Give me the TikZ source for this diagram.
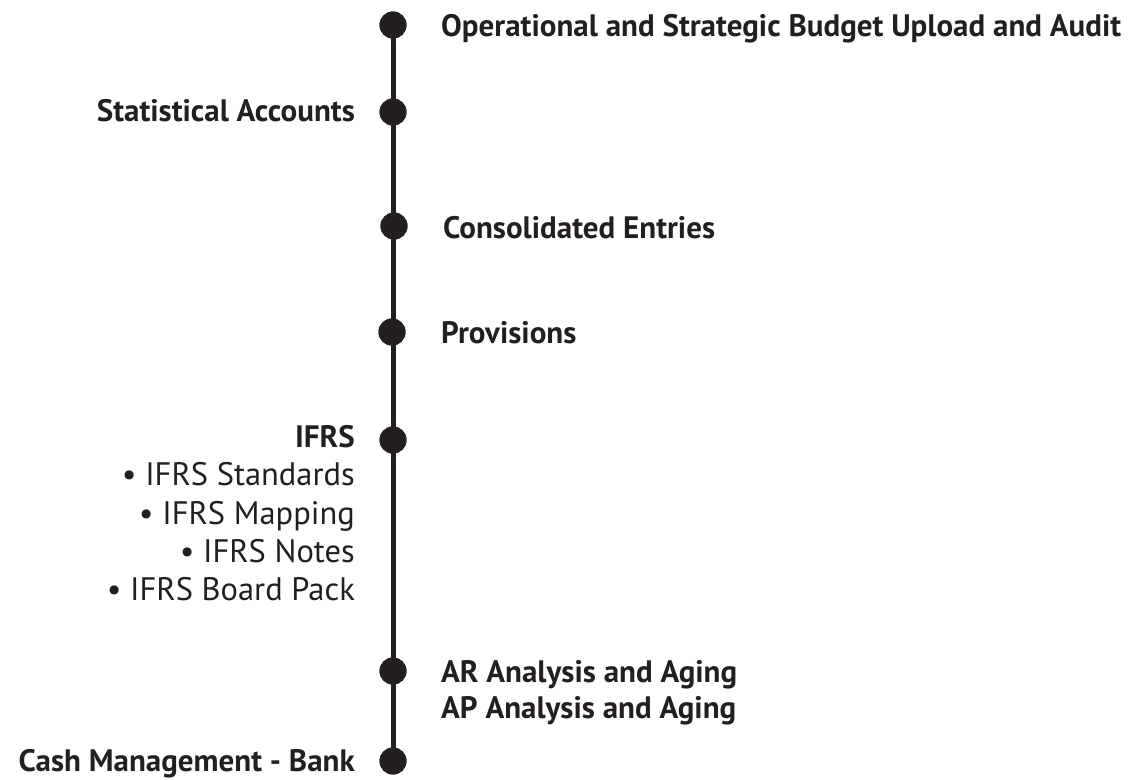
\documentclass[tikz,border=0pt]{standalone}
\usepackage{fontspec}
\setmainfont{PT Sans}
\definecolor{ink}{HTML}{231F20}
\begin{document}
\begin{tikzpicture}[x=1pt,y=-1pt,
  dot/.style={circle,fill=ink,inner sep=0pt,minimum size=27pt},
  lbl/.style={font=\fontsize{31}{34}\selectfont\bfseries,text=ink,inner sep=0pt},
  sub/.style={font=\fontsize{32.5}{34}\selectfont,text=ink,inner sep=0pt,anchor=base east},
  spine/.style={draw=ink,line width=5pt}]
\useasboundingbox (0,0) rectangle (1139,779);
\node[dot] (d1) at (393,25) {};
\node[dot] (d2) at (393,112) {};
\node[dot] (d3) at (394,226) {};
\node[dot] (d4) at (392,332) {};
\node[dot] (d5) at (393,440) {};
\node[dot] (d6) at (393,671) {};
\node[dot] (d7) at (393,761) {};
\draw[spine] (d1.center) -- (d7.center);
\foreach \d in {d1,d2,d3,d4,d5,d6,d7} \node[dot] at (\d) {};
\node[lbl,anchor=base west] (t1) at (441,36) {Operational and Strategic Budget Upload and Audit};
\node[lbl,anchor=base east] (t2) at (355,121) {Statistical Accounts};
\node[lbl,anchor=base west] (t3) at (443,238) {Consolidated Entries};
\node[lbl,anchor=base west] (t4) at (441,343) {Provisions};
\node[lbl,anchor=base east] (t5) at (355,447) {IFRS};
\node[sub] (s1) at (355,485) {• IFRS Standards};
\node[sub] (s2) at (355,524) {• IFRS Mapping};
\node[sub] (s3) at (355,562) {• IFRS Notes};
\node[sub] (s4) at (355,600) {• IFRS Board Pack};
\node[lbl,anchor=base west] (t6) at (441,682) {AR Analysis and Aging};
\node[lbl,anchor=base west] (t7) at (441,718) {AP Analysis and Aging};
\node[lbl,anchor=base east] (t8) at (355,771) {Cash Management - Bank};
\end{tikzpicture}
\end{document}
